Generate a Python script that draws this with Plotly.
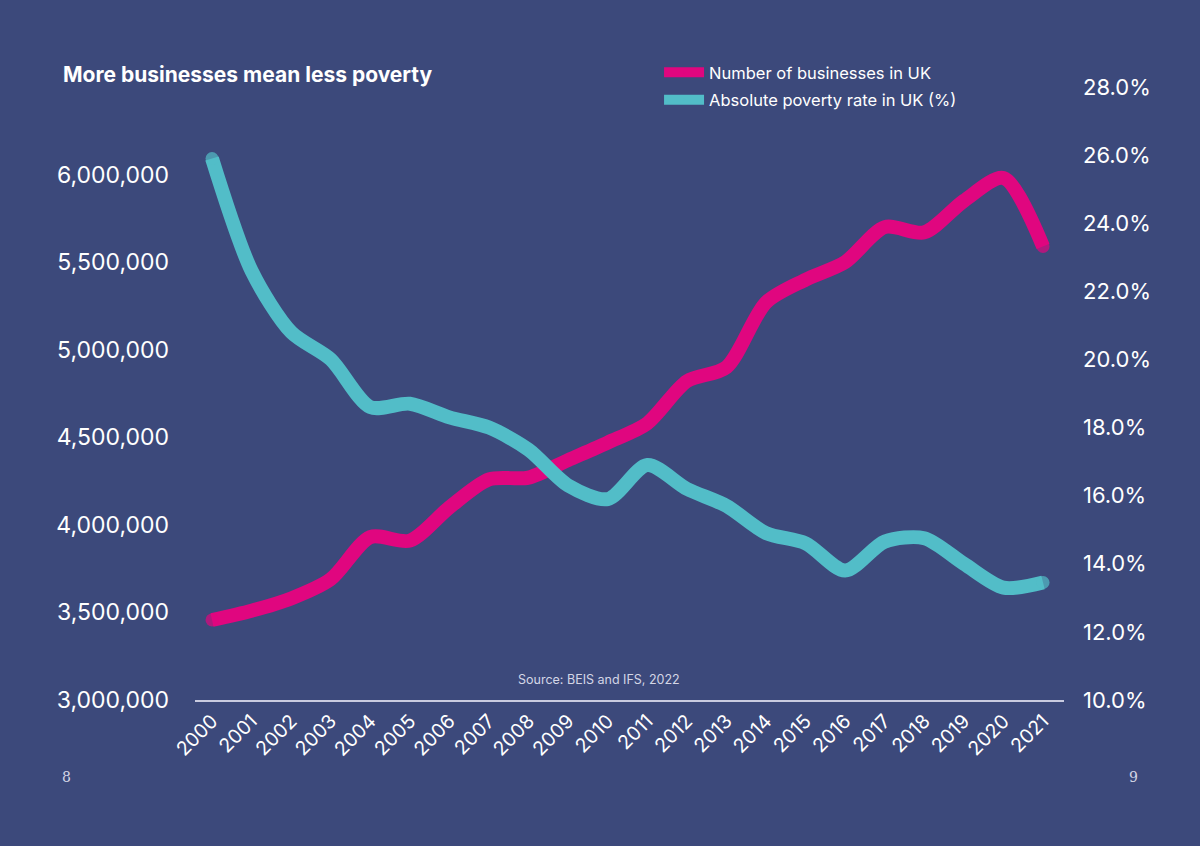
import plotly.graph_objects as go

# Data
years = list(range(2000, 2022))
businesses = [3457000, 3510000, 3580000, 3690000, 3930000, 3910000, 4100000, 4260000,
              4270000, 4370000, 4470000, 4580000, 4820000, 4900000, 5270000, 5400000,
              5500000, 5700000, 5670000, 5850000, 5980000, 5590000]
poverty = [25.9, 22.6, 20.8, 20.0, 18.6, 18.7, 18.3, 18.0, 17.35, 16.3, 15.9, 16.9,
           16.2, 15.7, 14.9, 14.6, 13.8, 14.65, 14.75, 14.0, 13.3, 13.45]

left_ticks = [3000000, 3500000, 4000000, 4500000, 5000000, 5500000, 6000000]
right_ticks = [10, 12, 14, 16, 18, 20, 22, 24, 26, 28]

bg = "#3c497b"
pink = "#e0067f"
cyan = "#52bdc8"
font = "Inter"

# round the line ends with a marker at the first and last point
end_sizes = [13] + [0] * (len(years) - 2) + [13]

fig = go.Figure()
fig.add_trace(go.Scatter(
    x=years, y=businesses, name="Number of businesses in UK", legendgroup="a",
    mode="lines+markers", line=dict(color=pink, width=14, shape="spline", smoothing=0.8),
    marker=dict(size=end_sizes, color=pink, line=dict(width=0)),
    yaxis="y"))
fig.add_trace(go.Scatter(
    x=years, y=poverty, name="Absolute poverty rate in UK (%)", legendgroup="b",
    mode="lines+markers", line=dict(color=cyan, width=14, shape="spline", smoothing=0.8),
    marker=dict(size=end_sizes, color=cyan, line=dict(width=0)),
    yaxis="y2"))

fig.update_layout(
    width=1200, height=846,
    paper_bgcolor=bg, plot_bgcolor=bg,
    margin=dict(l=195, r=136, t=87, b=146),
    font=dict(family=font, color="white"),
    title=dict(text="<b>More businesses mean less poverty</b>", x=63 / 1200, xanchor="left",
               y=1 - 75 / 846, yanchor="middle", font=dict(size=21, color="white", family=font)),
    showlegend=True,
    legend=dict(x=0.534, y=1.052, xanchor="left", yanchor="top", traceorder="grouped",
                bgcolor="rgba(0,0,0,0)", font=dict(size=16.5, color="white", family=font),
                itemwidth=40, tracegroupgap=3),
    xaxis=dict(range=[1999.57, 2021.53], tickvals=years, ticktext=[str(y) for y in years],
               tickangle=-45, tickfont=dict(size=19.5, color="white"),
               showgrid=False, zeroline=False, showline=True, linecolor="#c9cbe0", linewidth=2,
               ticks=""),
    yaxis=dict(range=[3000000, 6500000], tickvals=left_ticks, tickformat=",",
               tickfont=dict(size=23, color="white"), showgrid=False, zeroline=False,
               ticklabelstandoff=25, ticks=""),
    yaxis2=dict(range=[10, 28], tickvals=right_ticks,
                ticktext=[f"{v:.1f}%" for v in right_ticks],
                overlaying="y", side="right", tickfont=dict(size=22, color="white"),
                showgrid=False, zeroline=False, ticklabelstandoff=18, ticks=""),
    annotations=[
        dict(text="Source: BEIS and IFS, 2022", xref="paper", yref="paper", x=0.465, y=0.033,
             xanchor="center", yanchor="middle", showarrow=False,
             font=dict(size=12.5, color="#d4d6e6", family=font)),
        dict(text="8", xref="paper", yref="paper", x=(66 - 195) / 869, y=(700 - 777) / 613,
             xanchor="center", yanchor="middle", showarrow=False,
             font=dict(size=14, color="#d4d6e6", family="DejaVu Serif")),
        dict(text="9", xref="paper", yref="paper", x=(1133 - 195) / 869, y=(700 - 777) / 613,
             xanchor="center", yanchor="middle", showarrow=False,
             font=dict(size=14, color="#d4d6e6", family="DejaVu Serif")),
    ],
)

fig.write_html("out.html", config={"displayModeBar": False},
               post_script="document.body.style.margin='0';")
